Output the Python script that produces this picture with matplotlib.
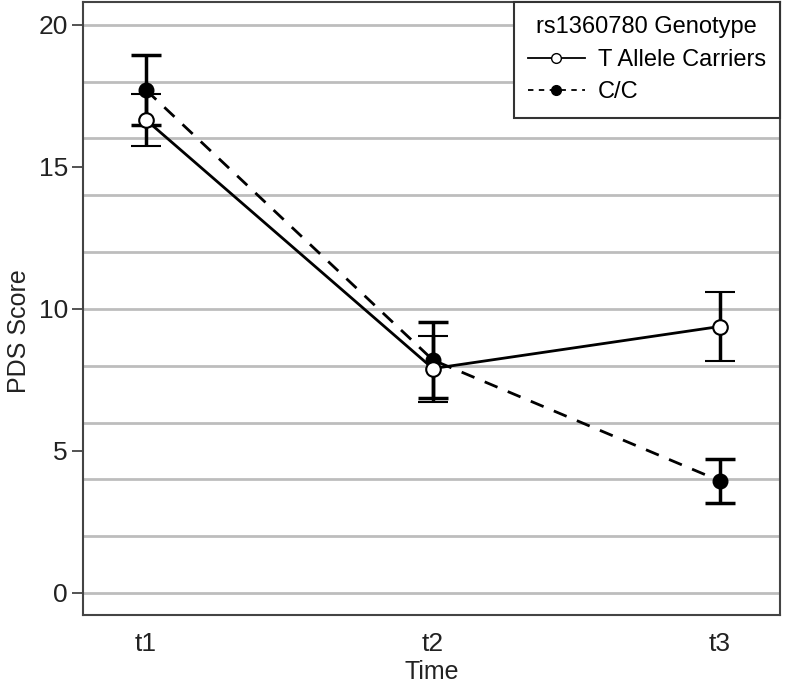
import numpy as np
import matplotlib
matplotlib.use("Agg")
import matplotlib.pyplot as plt
from matplotlib.lines import Line2D

plt.rcParams["font.family"] = ["Liberation Sans", "DejaVu Sans"]

# Данные
time_labels = ["t1", "t2", "t3"]
t_carriers = [16.65, 7.9, 9.38]
t_carriers_err = [0.9, 1.16, 1.2]
cc = [17.7, 8.2, 3.95]
cc_err = [1.22, 1.35, 0.77]

x = np.arange(1, len(time_labels) + 1)

fig = plt.figure(figsize=(7.87, 6.87), dpi=100)
ax = fig.add_axes([0.1055, 0.105, 0.8855, 0.892])

# горизонтальная сетка через каждые 2 единицы
for g in range(0, 21, 2):
    ax.axhline(g, color="#bdbdbd", lw=2, zorder=0)

ax.errorbar(x, cc, yerr=cc_err, color="black", lw=2, ls=(0, (5, 4)),
            marker="o", ms=10.5, mfc="black", mec="black",
            capsize=11, capthick=2.5, elinewidth=2.5, zorder=3)
ax.errorbar(x, t_carriers, yerr=t_carriers_err, color="black", lw=2, ls="-",
            marker="o", ms=10.5, mfc="white", mec="black", mew=1.5,
            capsize=11, capthick=2.5, elinewidth=2.5, zorder=4)

ax.set_xlim(0.78, 3.21)
ax.set_ylim(-0.77, 20.8)
ax.set_xticks(x)
ax.set_xticklabels(time_labels)
ax.set_yticks([0, 5, 10, 15, 20])
ax.tick_params(axis="x", length=0, pad=12, labelsize=19, colors="#222222")
ax.tick_params(axis="y", length=8, width=1.3, color="#444444", labelsize=19,
               labelcolor="#222222", pad=3)
ax.set_xlabel("Time", fontsize=18, color="#222222", labelpad=3)
ax.set_ylabel("PDS Score", fontsize=18, color="#222222")
ax.yaxis.set_label_coords(-0.074, 0.463)
for s in ax.spines.values():
    s.set_color("#444444")
    s.set_linewidth(1.5)

handles = [
    Line2D([], [], color="black", lw=1.3, ls="-", marker="o", ms=7,
           mfc="white", mec="black"),
    Line2D([], [], color="black", lw=1.3, ls=(0, (3, 3)), marker="o", ms=7,
           mfc="black", mec="black"),
]
leg = ax.legend(handles, ["T Allele Carriers", "C/C"], title="rs1360780 Genotype",
                loc="upper right", bbox_to_anchor=(1.0, 1.0), fontsize=17,
                title_fontsize=17, frameon=True, fancybox=False, framealpha=1,
                edgecolor="#333333", borderaxespad=0, handlelength=2.4,
                handletextpad=0.55, borderpad=0.6, labelspacing=0.45)
leg.get_frame().set_linewidth(1.5)
leg.set_zorder(10)

plt.savefig("out.png", dpi=100)
